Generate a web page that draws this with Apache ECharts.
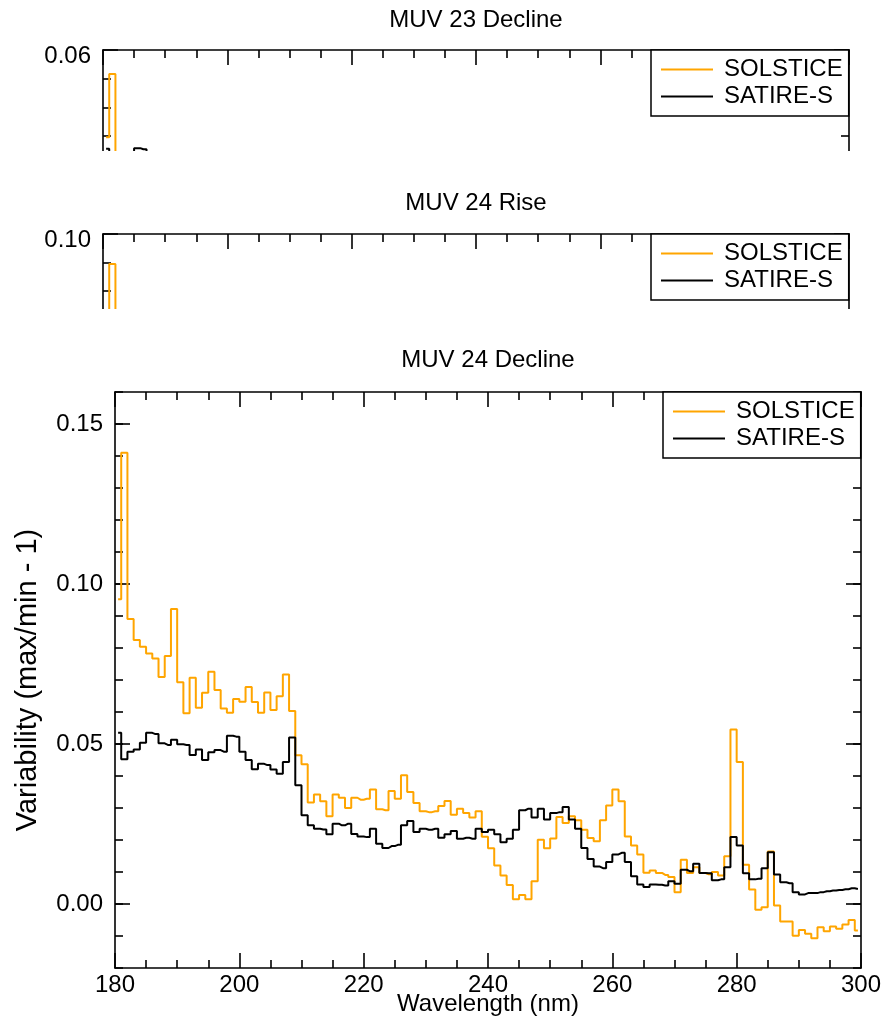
<!DOCTYPE html>
<html>
<head>
<meta charset="utf-8">
<script src="https://cdn.jsdelivr.net/npm/echarts/dist/echarts.min.js"></script>
<style>
  html, body { margin: 0; padding: 0; background: #fff; }
  #chart { width: 896px; height: 1022px; }
</style>
</head>
<body>
<div id="chart"></div>
<script>
// ---------------- data ----------------
// 1-nm bins; first bin centre in nm
const binStart = 180.5;

// MUV 24 Decline (bottom panel), 180.5 ... 299.5 nm
const solstice24Decline = [
  0.0952, 0.1410, 0.0891, 0.0825, 0.0804, 0.0783, 0.0767, 0.0709, 0.0775, 0.0922,
  0.0693, 0.0596, 0.0707, 0.0613, 0.0660, 0.0726, 0.0669, 0.0611, 0.0598, 0.0641,
  0.0632, 0.0678, 0.0631, 0.0598, 0.0661, 0.0606, 0.0649, 0.0717, 0.0603, 0.0465,
  0.0437, 0.0317, 0.0342, 0.0321, 0.0274, 0.0342, 0.0332, 0.0300, 0.0332, 0.0326,
  0.0329, 0.0358, 0.0296, 0.0293, 0.0353, 0.0329, 0.0402, 0.0350, 0.0316, 0.0290,
  0.0287, 0.0290, 0.0306, 0.0322, 0.0279, 0.0298, 0.0284, 0.0270, 0.0290, 0.0210,
  0.0174, 0.0120, 0.0089, 0.0059, 0.0015, 0.0028, 0.0015, 0.0071, 0.0201, 0.0174,
  0.0205, 0.0272, 0.0253, 0.0274, 0.0262, 0.0232, 0.0206, 0.0196, 0.0262, 0.0308,
  0.0358, 0.0321, 0.0211, 0.0183, 0.0155, 0.0098, 0.0105, 0.0097, 0.0091, 0.0084,
  0.0037, 0.0138, 0.0097, 0.0115, 0.0097, 0.0093, 0.0100, 0.0089, 0.0149, 0.0545,
  0.0444, 0.0123, 0.0045, -0.0018, -0.0010, 0.0164, -0.0005, -0.0055, -0.0055, -0.0099,
  -0.0081, -0.0093, -0.0107, -0.0073, -0.0085, -0.0070, -0.0077, -0.0064, -0.0050, -0.0083
];
const satire24Decline = [
  0.0535, 0.0452, 0.0476, 0.0483, 0.0504, 0.0535, 0.0531, 0.0502, 0.0497, 0.0513,
  0.0499, 0.0497, 0.0466, 0.0483, 0.0450, 0.0474, 0.0481, 0.0476, 0.0526, 0.0523,
  0.0476, 0.0450, 0.0421, 0.0438, 0.0434, 0.0420, 0.0407, 0.0444, 0.0520, 0.0371,
  0.0277, 0.0246, 0.0235, 0.0233, 0.0218, 0.0251, 0.0246, 0.0251, 0.0219, 0.0211,
  0.0209, 0.0235, 0.0188, 0.0175, 0.0181, 0.0185, 0.0246, 0.0259, 0.0225, 0.0235,
  0.0232, 0.0235, 0.0207, 0.0218, 0.0228, 0.0204, 0.0207, 0.0204, 0.0235, 0.0225,
  0.0232, 0.0218, 0.0193, 0.0204, 0.0232, 0.0293, 0.0298, 0.0270, 0.0298, 0.0264,
  0.0284, 0.0287, 0.0303, 0.0264, 0.0235, 0.0175, 0.0141, 0.0117, 0.0112, 0.0131,
  0.0155, 0.0160, 0.0131, 0.0087, 0.0061, 0.0053, 0.0061, 0.0060, 0.0058, 0.0071,
  0.0063, 0.0107, 0.0102, 0.0126, 0.0097, 0.0096, 0.0074, 0.0077, 0.0115, 0.0209,
  0.0183, 0.0096, 0.0077, 0.0079, 0.0112, 0.0162, 0.0092, 0.0068, 0.0065, 0.0037,
  0.0030, 0.0034, 0.0034, 0.0037, 0.0040, 0.0042, 0.0044, 0.0046, 0.0049, 0.0047
];

// MUV 23 Decline and MUV 24 Rise: only the top strip of these panels is visible
const solstice23Decline = [0.0448, 0.0558, 0.0380, 0.0360];
const satire23Decline   = [0.0428, 0.0410, 0.0400, 0.0405, 0.0415, 0.0429, 0.0427, 0.0410];
const solstice24Rise    = [0.0650, 0.0895, 0.0620, 0.0600];
const satire24Rise      = [0.0620, 0.0580, 0.0570, 0.0580];

const panelTitles = ['MUV 23 Decline', 'MUV 24 Rise', 'MUV 24 Decline'];
const seriesNames = ['SOLSTICE', 'SATIRE-S'];
const xTicks = { min: 180, max: 300, interval: 20 };
const yMajorTicks = [0.00, 0.05, 0.10, 0.15];

// ---------------- styling ----------------
const FONT = 'Liberation Sans, Arial, Helvetica, sans-serif';
const FS = 24;
const ORANGE = '#FFA500';
const BLACK = '#000000';
const AXLINE = { color: '#000', width: 1.6 };

const toPairs = (vals) => vals.map((v, i) => [binStart + i, v]);

function xAx(grid, pos, labels) {
  return {
    type: 'value', gridIndex: grid, position: pos,
    min: xTicks.min, max: xTicks.max, interval: xTicks.interval,
    axisLine: { show: true, onZero: false, lineStyle: AXLINE },
    axisTick: { show: true, inside: true, length: 15, lineStyle: AXLINE },
    minorTick: { show: true, splitNumber: 4, length: 8, lineStyle: AXLINE },
    axisLabel: { show: labels, color: '#000', fontSize: FS, fontFamily: FONT, margin: 5 },
    splitLine: { show: false }, minorSplitLine: { show: false }
  };
}
function yAxSmall(grid, pos, min, max, interval, split, topLabel) {
  return {
    type: 'value', gridIndex: grid, position: pos,
    min: min, max: max, interval: interval,
    axisLine: { show: true, onZero: false, lineStyle: AXLINE },
    axisTick: { show: true, inside: true, length: 15, lineStyle: AXLINE },
    minorTick: { show: true, splitNumber: split, length: 8, lineStyle: AXLINE },
    axisLabel: {
      show: !!topLabel, color: '#000', fontSize: FS, fontFamily: FONT, margin: 12,
      verticalAlign: 'top', lineHeight: 12,
      formatter: (v) => (Math.abs(v - max) < 1e-9 ? v.toFixed(2) : '')
    },
    splitLine: { show: false }, minorSplitLine: { show: false }
  };
}

function line(name, color, grid, data) {
  return {
    type: 'line', name: name, xAxisIndex: grid.x, yAxisIndex: grid.y,
    data: toPairs(data), step: 'middle', showSymbol: false, symbol: 'none',
    lineStyle: { color: color, width: 2 }, itemStyle: { color: color },
    clip: true, animation: false
  };
}

function legend(left, top) {
  return {
    orient: 'vertical', left: left, top: top,
    data: seriesNames, icon: 'rect', itemWidth: 52, itemHeight: 2, itemGap: 0,
    padding: [6, 6, 6, 10],
    backgroundColor: '#fff', borderColor: '#000', borderWidth: 1.5,
    textStyle: { color: '#000', fontSize: FS, fontFamily: FONT, lineHeight: 27, padding: [0, 0, 0, 6] },
    selectedMode: false
  };
}

const option = {
  animation: false,
  backgroundColor: '#fff',
  grid: [
    { left: 103, right: 47, top: 50, height: 114.8, outerBoundsMode: 'none', containLabel: false },
    { left: 103, right: 47, top: 234, height: 142.5, outerBoundsMode: 'none', containLabel: false },
    { left: 115, right: 35, top: 392, height: 576, outerBoundsMode: 'none', containLabel: false }
  ],
  xAxis: [
    xAx(0, 'top', false),
    xAx(1, 'top', false),
    Object.assign(xAx(2, 'bottom', true), {
      name: 'Wavelength (nm)', nameLocation: 'middle', nameGap: 24, nameMoveOverlap: false,
      nameTextStyle: { color: '#000', fontSize: FS, fontFamily: FONT }
    }),
    xAx(2, 'top', false)
  ],
  yAxis: [
    yAxSmall(0, 'left', 0.04, 0.06, 0.02, 4, true),
    yAxSmall(0, 'right', 0.04, 0.06, 0.02, 4, false),
    yAxSmall(1, 'left', 0.05, 0.10, 0.05, 5, true),
    yAxSmall(1, 'right', 0.05, 0.10, 0.05, 5, false),
    // bottom panel: minor ticks every 0.01 (left) + axis name
    {
      type: 'value', gridIndex: 2, position: 'left', min: -0.02, max: 0.16, interval: 0.01,
      axisLine: { show: true, onZero: false, lineStyle: AXLINE },
      axisTick: { show: true, inside: true, length: 8, lineStyle: AXLINE },
      axisLabel: { show: false }, splitLine: { show: false },
      name: 'Variability (max/min - 1)', nameLocation: 'middle', nameRotate: 90, nameGap: 73,
      nameMoveOverlap: false,
      nameTextStyle: { color: '#000', fontSize: 29, fontFamily: FONT }
    },
    // bottom panel: major ticks + labels (left)
    {
      type: 'value', gridIndex: 2, position: 'left', min: -0.02, max: 0.16, interval: 0.01,
      axisLine: { show: false },
      axisTick: { show: true, inside: true, length: 15, lineStyle: AXLINE, customValues: yMajorTicks },
      axisLabel: { show: true, customValues: yMajorTicks, formatter: (v) => v.toFixed(2),
        color: '#000', fontSize: FS, fontFamily: FONT, margin: 12 },
      splitLine: { show: false }
    },
    // right side minor
    {
      type: 'value', gridIndex: 2, position: 'right', min: -0.02, max: 0.16, interval: 0.01,
      axisLine: { show: true, onZero: false, lineStyle: AXLINE },
      axisTick: { show: true, inside: true, length: 8, lineStyle: AXLINE },
      axisLabel: { show: false }, splitLine: { show: false }
    },
    // right side major
    {
      type: 'value', gridIndex: 2, position: 'right', min: -0.02, max: 0.16, interval: 0.01,
      axisLine: { show: false },
      axisTick: { show: true, inside: true, length: 15, lineStyle: AXLINE, customValues: yMajorTicks },
      axisLabel: { show: false }, splitLine: { show: false }
    }
  ],
  legend: [legend(651, 50), legend(651, 234), legend(663, 392)],
  series: [
    line(seriesNames[0], ORANGE, { x: 0, y: 0 }, solstice23Decline),
    line(seriesNames[1], BLACK, { x: 0, y: 0 }, satire23Decline),
    line(seriesNames[0], ORANGE, { x: 1, y: 2 }, solstice24Rise),
    line(seriesNames[1], BLACK, { x: 1, y: 2 }, satire24Rise),
    line(seriesNames[0], ORANGE, { x: 2, y: 4 }, solstice24Decline),
    line(seriesNames[1], BLACK, { x: 2, y: 4 }, satire24Decline)
  ],
  graphic: [
    // later panels cover the lower part of the earlier ones
    { type: 'rect', shape: { x: 0, y: 151, width: 896, height: 20 }, style: { fill: '#fff' }, z: 5, silent: true },
    { type: 'rect', shape: { x: 0, y: 309, width: 896, height: 70 }, style: { fill: '#fff' }, z: 5, silent: true },
    { type: 'text', x: 476, y: 20, z: 6, style: { text: panelTitles[0], textAlign: 'center', textVerticalAlign: 'middle', fill: '#000', fontSize: FS, fontFamily: FONT } },
    { type: 'text', x: 476, y: 203, z: 6, style: { text: panelTitles[1], textAlign: 'center', textVerticalAlign: 'middle', fill: '#000', fontSize: FS, fontFamily: FONT } },
    { type: 'text', x: 488, y: 360, z: 6, style: { text: panelTitles[2], textAlign: 'center', textVerticalAlign: 'middle', fill: '#000', fontSize: FS, fontFamily: FONT } }
  ]
};

const chart = echarts.init(document.getElementById('chart'), null, { renderer: 'canvas', width: 896, height: 1022 });
chart.setOption(option);
</script>
</body>
</html>
